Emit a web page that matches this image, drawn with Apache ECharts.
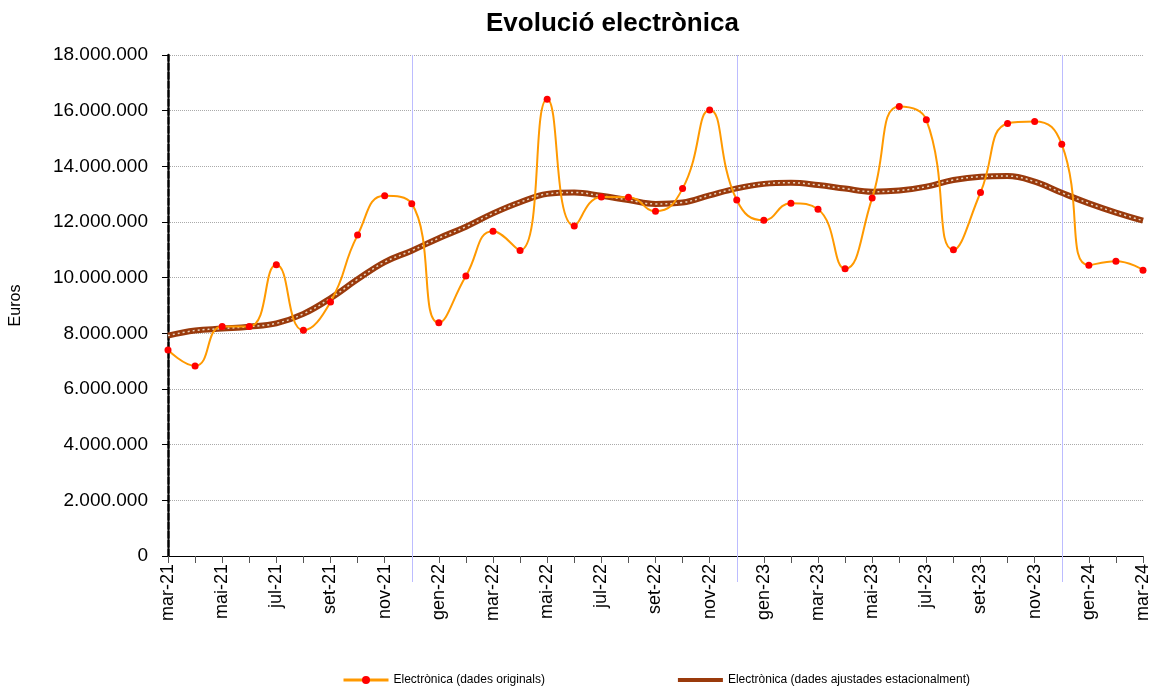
<!DOCTYPE html>
<html>
<head>
<meta charset="utf-8">
<script src="https://cdn.jsdelivr.net/npm/echarts@6/dist/echarts.min.js"></script>
<style>
  html, body { margin: 0; padding: 0; background: #fff; }
  #chart { width: 1157px; height: 687px; }
</style>
</head>
<body>
<div id="chart"></div>
<script>
// mesos (mar-21 .. mar-24)
const months = [
  'mar-21','abr-21','mai-21','jun-21','jul-21','ago-21','set-21','oct-21','nov-21','des-21',
  'gen-22','feb-22','mar-22','abr-22','mai-22','jun-22','jul-22','ago-22','set-22','oct-22','nov-22','des-22',
  'gen-23','feb-23','mar-23','abr-23','mai-23','jun-23','jul-23','ago-23','set-23','oct-23','nov-23','des-23',
  'gen-24','feb-24','mar-24'
];

// dades originals (euros)
const originals = [
  7400000, 6830000, 8250000, 8250000, 10460000, 8110000, 9130000, 11530000, 12940000, 12660000,
  8380000, 10060000, 11670000, 10980000, 16410000, 11860000, 12900000, 12890000, 12390000, 13200000, 16020000, 12790000,
  12060000, 12670000, 12460000, 10320000, 12860000, 16150000, 15670000, 11000000, 13060000, 15540000, 15610000, 14790000,
  10450000, 10590000, 10270000
];

// dades ajustades estacionalment (euros)
const ajustades = [
  7920000, 8100000, 8170000, 8240000, 8360000, 8700000, 9260000, 9940000, 10560000, 10970000,
  11420000, 11830000, 12310000, 12710000, 13010000, 13060000, 12940000, 12790000, 12650000, 12700000, 12960000, 13210000,
  13370000, 13410000, 13330000, 13200000, 13090000, 13130000, 13270000, 13510000, 13630000, 13650000, 13450000, 13050000,
  12670000, 12340000, 12050000
];

const nameOrig = 'Electrònica (dades originals)';
const nameAdj = 'Electrònica (dades ajustades estacionalment)';

function fmt(v) {
  return String(v).replace(/\B(?=(\d{3})+(?!\d))/g, '.');
}

const chart = echarts.init(document.getElementById('chart'));
chart.setOption({
  animation: false,
  textStyle: { fontFamily: 'Liberation Sans, Arial, sans-serif', color: '#000' },
  title: {
    text: 'Evolució electrònica',
    left: 481,
    top: 6,
    textStyle: { fontSize: 26, fontWeight: 'bold', color: '#000', fontFamily: 'Liberation Sans, Arial, sans-serif' }
  },
  legend: {
    left: 337,
    top: 669,
    itemGap: 131,
    itemWidth: 45,
    itemHeight: 10,
    textStyle: { fontSize: 12, color: '#000' },
    data: [
      { name: nameOrig, lineStyle: { width: 3 } },
      { name: nameAdj, lineStyle: { width: 4 } }
    ]
  },
  grid: { left: 168, right: 14, top: 55, bottom: 131 },
  xAxis: [
    {
      type: 'category',
      data: months,
      boundaryGap: false,
      axisLine: { lineStyle: { color: '#000', width: 1 } },
      axisTick: { interval: 0, length: 7, lineStyle: { color: '#555' } },
      axisLabel: { interval: 1, rotate: 90, fontSize: 18, color: '#000', margin: 8 },
      splitLine: { show: false }
    },
    {
      // línies verticals de canvi d'any
      type: 'category',
      data: months,
      boundaryGap: false,
      position: 'bottom',
      axisLine: { show: false },
      axisLabel: { show: false },
      axisTick: {
        show: true,
        length: 26,
        interval: (i, v) => v.startsWith('des'),
        lineStyle: { color: '#bcbcff', width: 1 }
      },
      splitLine: {
        show: true,
        interval: (i, v) => v.startsWith('des'),
        lineStyle: { color: '#bcbcff', width: 1 }
      }
    }
  ],
  yAxis: {
    type: 'value',
    min: 0,
    max: 18000000,
    interval: 2000000,
    name: 'Euros',
    nameLocation: 'middle',
    nameGap: 144,
    nameTextStyle: { fontSize: 16, color: '#000' },
    axisLine: { show: true, lineStyle: { color: '#000', width: 2.5, type: [7, 2] } },
    axisTick: { show: true, length: 6, lineStyle: { color: '#000' } },
    axisLabel: { fontSize: 19, color: '#000', margin: 20, formatter: fmt },
    splitLine: { lineStyle: { color: '#aaa', type: 'dotted', width: 1 } }
  },
  series: [
    {
      name: nameAdj,
      type: 'line',
      data: ajustades,
      smooth: 0.4,
      symbol: 'circle',
      showSymbol: false,
      z: 2,
      lineStyle: { color: '#9a3a0c', width: 6 },
      itemStyle: { color: 'rgba(0,0,0,0)' }
    },
    {
      name: 'ajustades-overlay',
      type: 'line',
      data: ajustades,
      smooth: 0.4,
      symbol: 'none',
      silent: true,
      z: 3,
      lineStyle: { color: '#e9d6c2', width: 1.5, type: [2, 3] }
    },
    {
      name: nameOrig,
      type: 'line',
      data: originals,
      smooth: 0.5,
      symbol: 'circle',
      symbolSize: 7,
      z: 4,
      lineStyle: { color: '#ff9900', width: 2 },
      itemStyle: { color: '#ff0000', borderWidth: 0 }
    }
  ]
});
</script>
</body>
</html>
